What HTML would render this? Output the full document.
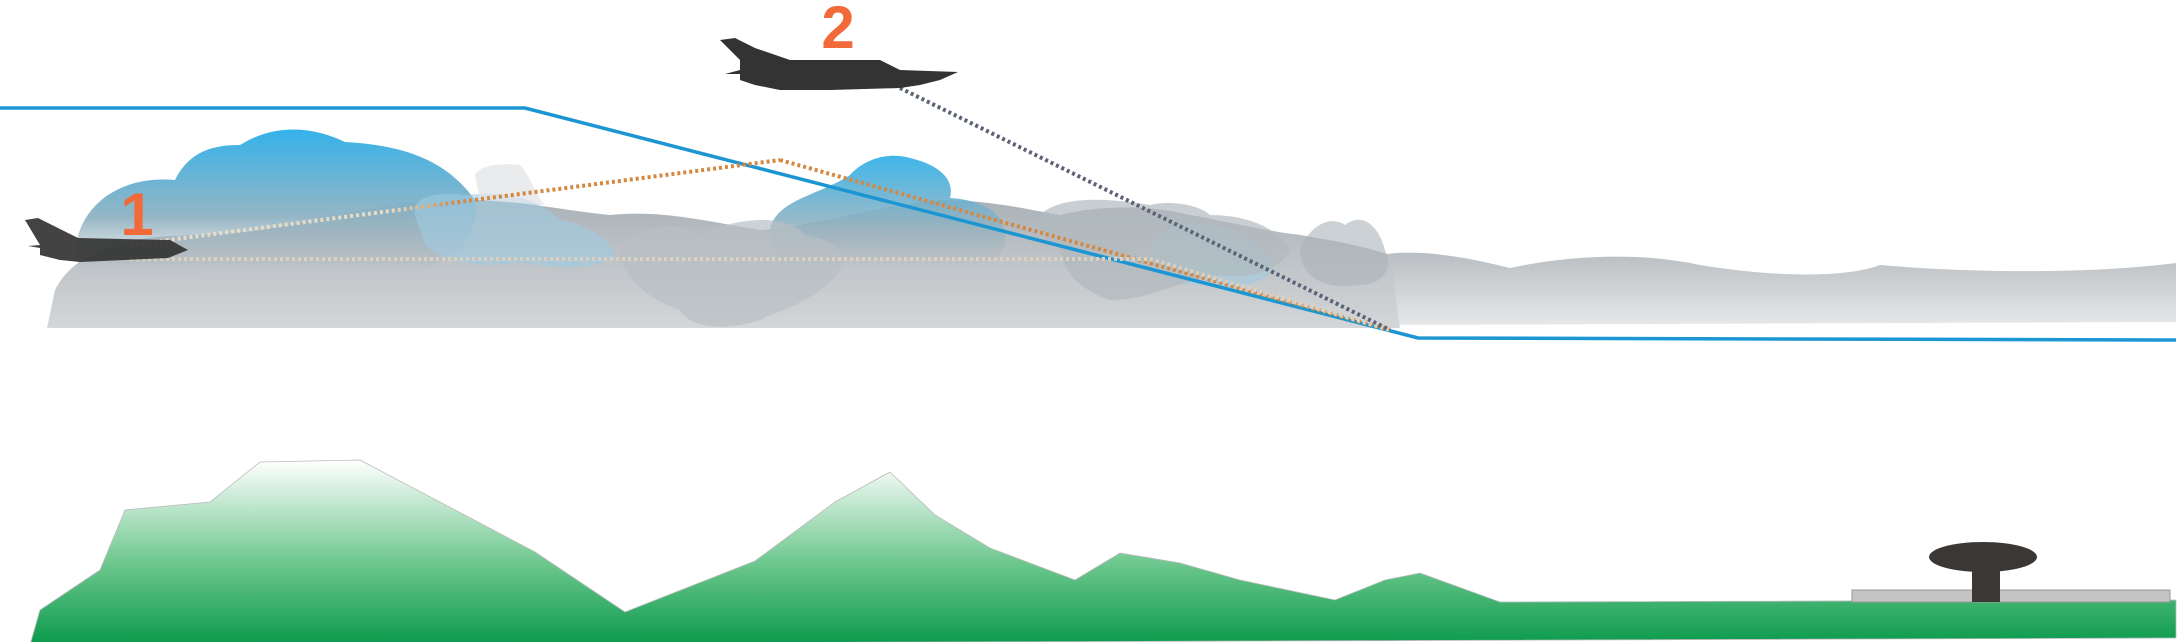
<!DOCTYPE html>
<html><head><meta charset="utf-8"><style>
html,body{margin:0;padding:0;background:#fff;}
svg{display:block}
</style></head><body>
<svg width="2181" height="642" viewBox="0 0 2181 642">
<defs>
<linearGradient id="fog" x1="0" y1="0" x2="0" y2="1"><stop offset="0" stop-color="#aab2b8"/><stop offset="1" stop-color="#d4d6d8"/></linearGradient>
<linearGradient id="cb" x1="0" y1="0" x2="0" y2="1"><stop offset="0" stop-color="#2aaee8"/><stop offset="0.6" stop-color="#8fb2c2"/><stop offset="1" stop-color="#a9b3b9" stop-opacity="0"/></linearGradient>
<linearGradient id="grn" x1="0" y1="0" x2="0" y2="1"><stop offset="0" stop-color="#ffffff"/><stop offset="0.55" stop-color="#6fc88f"/><stop offset="1" stop-color="#0a9a4c"/></linearGradient>
<linearGradient id="strip" x1="0" y1="0" x2="0" y2="1"><stop offset="0" stop-color="#b9bec2"/><stop offset="1" stop-color="#e6e7e8"/></linearGradient>
<linearGradient id="orng" x1="0" y1="0" x2="1" y2="0"><stop offset="0" stop-color="#e8dcc8"/><stop offset="0.4" stop-color="#e8dcc8"/><stop offset="0.5" stop-color="#d6873f"/><stop offset="1" stop-color="#d6873f"/></linearGradient>
</defs>
<g>
<path fill="url(#strip)" d="M1380,255 C1420,248 1470,258 1510,268 C1570,255 1640,252 1700,265 C1760,275 1840,280 1880,265 C1960,272 2080,275 2176,263 L2176,322 L1380,325 Z"/>
<path fill="url(#fog)" d="M47,328 L55,290 C70,260 100,250 120,245 C150,232 200,238 260,230 C330,220 400,195 470,200 C520,200 560,210 610,215 C660,210 700,220 760,230 C820,225 880,205 940,200 C990,200 1030,210 1060,215 C1100,205 1150,205 1190,215 C1220,220 1260,230 1300,235 C1330,240 1360,245 1390,255 L1400,328 Z"/>
<path fill="url(#cb)" opacity="0.95" d="M75,250 C80,205 120,175 175,180 C190,150 215,145 240,145 C280,120 320,130 345,142 C400,145 445,158 475,200 C480,230 460,260 420,270 L80,275 Z"/>
<path fill="url(#cb)" opacity="0.9" d="M770,230 C775,200 820,195 850,175 C865,158 890,152 910,158 C940,165 955,180 950,198 C985,200 1005,215 1005,235 C1010,255 985,268 940,268 L780,268 Z"/>
<path fill="#9fcbe3" opacity="0.6" d="M415,215 C410,195 440,192 465,195 C510,190 540,200 560,220 C590,225 610,240 615,255 C600,270 560,270 520,262 C480,270 440,260 425,245 Z"/>
<path fill="#9fcbe3" opacity="0.5" d="M1150,255 C1150,230 1180,220 1210,225 C1240,230 1260,245 1275,262 C1270,285 1240,290 1200,285 C1170,285 1150,275 1150,255 Z"/>
<path fill="#b8bfc4" opacity="0.7" d="M620,255 C640,220 680,222 700,235 C740,215 790,215 805,235 C830,240 850,250 840,270 C820,300 780,310 760,320 C730,330 690,330 680,310 C650,300 625,280 620,255 Z"/>
<path fill="#b1b9be" opacity="0.7" d="M1040,215 C1060,195 1110,198 1150,205 C1170,200 1200,205 1210,215 C1250,215 1280,230 1290,250 C1280,270 1250,280 1220,275 C1180,280 1150,300 1110,300 C1080,290 1060,270 1060,245 C1040,240 1035,225 1040,215 Z"/>
<path fill="#aab3b9" opacity="0.6" d="M1300,250 C1310,225 1330,215 1345,225 C1365,210 1380,230 1385,250 C1395,270 1380,285 1360,285 C1330,290 1300,280 1300,250 Z"/>
<path fill="#dfe3e6" opacity="0.7" d="M475,175 C480,165 500,163 520,165 C530,175 535,195 545,205 L480,200 Z"/>
</g>
<g fill="none">
<polyline points="0,108 525,108 1418,338 2176,340" stroke="#1b96d2" stroke-width="3.5"/>
<polyline points="130,245 780,160" stroke="url(#orng)" stroke-width="4" stroke-dasharray="3,3"/>
<polyline points="780,160 1390,330" stroke="#d6873f" stroke-width="4" stroke-dasharray="3,3"/>
<polyline points="130,259 1150,259 1390,330" stroke="#dcd0bf" stroke-width="4" stroke-dasharray="3,3"/>
<polyline points="900,88 1390,330" stroke="#5b6275" stroke-width="4" stroke-dasharray="3,3"/>
</g>
<g fill="#333">
<path d="M25,220 L38,218 L58,228 L78,238 L170,240 L188,250 L168,258 L80,262 L60,260 L40,255 L40,248 L28,246 L40,245 Z" opacity="0.92"/>
<text x="137" y="235" text-anchor="middle" font-family="Liberation Sans, sans-serif" font-weight="bold" font-size="60" fill="#f26a3a">1</text>
</g>
<g fill="#333">
<path d="M720,40 L735,38 L755,48 L790,60 L880,60 L900,70 L958,72 L940,80 L920,85 L900,88 L830,90 L780,90 L755,85 L740,80 L740,74 L725,74 L740,70 L740,60 Z"/>
<text x="838" y="48" text-anchor="middle" font-family="Liberation Sans, sans-serif" font-weight="bold" font-size="60" fill="#f26a3a">2</text>
</g>
<path fill="url(#grn)" stroke="#bbb" stroke-width="0.8" d="M30,645 L40,610 L100,570 L125,510 L210,502 L260,462 L360,460 L535,552 L625,612 L755,561 L835,502 L890,472 L935,515 L990,548 L1075,580 L1120,553 L1180,563 L1240,580 L1335,600 L1385,580 L1420,573 L1500,602 L2176,600 L2176,638 Z"/>
<g>
<rect x="1852" y="590" width="318" height="12" fill="#c4c4c4" stroke="#999"/>
<rect x="1972" y="570" width="28" height="32" fill="#3a3735"/>
<ellipse cx="1983" cy="557" rx="54" ry="15" fill="#3a3735"/>
</g>
</svg>
</body></html>
